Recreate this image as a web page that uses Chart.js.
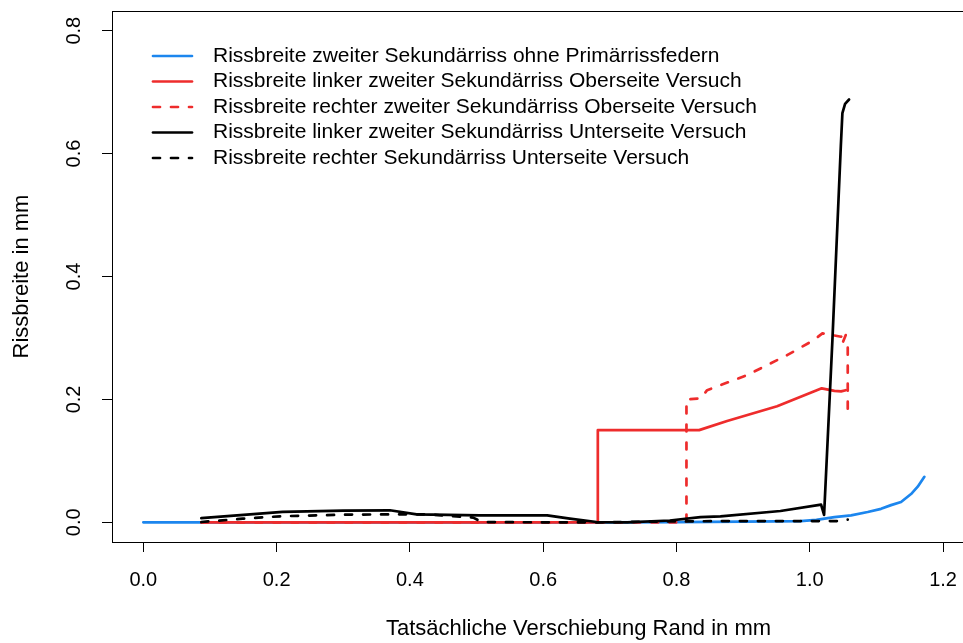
<!DOCTYPE html>
<html>
<head>
<meta charset="utf-8">
<script src="https://cdn.jsdelivr.net/npm/chart.js@4.4.1/dist/chart.umd.min.js"></script>
<style>
html, body { margin: 0; padding: 0; overflow: hidden; background: #fff; width: 963px; height: 643px; }
canvas { display: block; }
</style>
</head>
<body>
<canvas id="c" width="1050" height="643"></canvas>
<script>
// ---- data ----
const xTicks = [0, 0.2, 0.4, 0.6, 0.8, 1.0, 1.2];
const yTicks = [0, 0.2, 0.4, 0.6, 0.8];

const seriesLabels = [
  "Rissbreite zweiter Sekundärriss ohne Primärrissfedern",
  "Rissbreite linker zweiter Sekundärriss Oberseite Versuch",
  "Rissbreite rechter zweiter Sekundärriss Oberseite Versuch",
  "Rissbreite linker zweiter Sekundärriss Unterseite Versuch",
  "Rissbreite rechter Sekundärriss Unterseite Versuch"
];

const blueX = [0, 0.087, 0.3, 0.5, 0.7, 0.8, 0.9, 0.95, 0.986, 1.01, 1.037, 1.062, 1.087, 1.107, 1.122, 1.137, 1.152, 1.162, 1.172];
const blueY = [0, 0, 0, 0, 0, 0.0005, 0.001, 0.0015, 0.002, 0.004, 0.0086, 0.0114, 0.0168, 0.022, 0.028, 0.033, 0.046, 0.058, 0.074];

const redOX = [0.087, 0.682, 0.682, 0.75, 0.834, 0.876, 0.951, 1.018, 1.037, 1.047, 1.054];
const redOY = [0, 0, 0.15, 0.15, 0.15, 0.165, 0.189, 0.218, 0.214, 0.213, 0.215];

const redRX = [0.087, 0.815, 0.815, 0.836, 0.846, 0.906, 0.966, 1.006, 1.019, 1.027, 1.047, 1.056, 1.049, 1.057, 1.057];
const redRY = [0, 0, 0.2, 0.2015, 0.215, 0.2395, 0.272, 0.2965, 0.3075, 0.306, 0.302, 0.31, 0.291, 0.29, 0.172];

const blkLX = [0.087, 0.209, 0.30, 0.37, 0.41, 0.505, 0.606, 0.64, 0.68, 0.726, 0.79, 0.836, 0.866, 0.956, 1.017, 1.0215, 1.034, 1.0466, 1.049, 1.053, 1.059];
const blkLY = [0.007, 0.017, 0.019, 0.0196, 0.013, 0.0114, 0.0114, 0.006, 0.0005, 0, 0.003, 0.0086, 0.0098, 0.0184, 0.0288, 0.012, 0.2965, 0.6115, 0.666, 0.681, 0.688];

const blkRX = [0.087, 0.149, 0.209, 0.305, 0.38, 0.425, 0.45, 0.495, 0.508, 0.6, 0.68, 0.75, 0.866, 0.95, 1.02, 1.047, 1.057];
const blkRY = [0.0005, 0.006, 0.010, 0.0125, 0.013, 0.013, 0.011, 0.0077, 0.0005, 0, 0, 0.001, 0.002, 0.002, 0.002, 0.002, 0.0044];

function pts(xs, ys) { return xs.map((x, i) => ({ x: x, y: ys[i] })); }

const BLUE = "#1C86EE", RED = "#EE2C2C", BLACK = "#000000";
const FONT = "'Liberation Sans', Arial, Helvetica, sans-serif";

function ds(label, data, color, dash, order) {
  return {
    label: label, data: data, borderColor: color, backgroundColor: color,
    borderWidth: 2.7, borderDash: dash, borderCapStyle: "round", borderJoinStyle: "round",
    pointRadius: 0, showLine: true, tension: 0, fill: false, order: order
  };
}

// later series are painted on top (as in the reference)
const datasets = [
  ds(seriesLabels[0], pts(blueX, blueY), BLUE, [], 5),
  ds(seriesLabels[1], pts(redOX, redOY), RED, [], 4),
  ds(seriesLabels[2], pts(redRX, redRY), RED, [7, 11], 3),
  ds(seriesLabels[3], pts(blkLX, blkLY), BLACK, [], 2),
  ds(seriesLabels[4], pts(blkRX, blkRY), BLACK, [7, 11], 1)
];

const boxPlugin = {
  id: "box",
  afterDatasetsDraw(chart) {
    const a = chart.chartArea, ctx = chart.ctx;
    ctx.save();
    ctx.strokeStyle = "#000";
    ctx.lineWidth = 1;
    ctx.strokeRect(Math.round(a.left) + 0.5, Math.round(a.top) + 0.5, Math.round(a.right - a.left), Math.round(a.bottom - a.top));
    ctx.restore();
  }
};

const legendPlugin = {
  id: "rlegend",
  afterDraw(chart) {
    const ctx = chart.ctx;
    ctx.save();
    ctx.font = "21px " + FONT;
    ctx.textBaseline = "middle";
    ctx.textAlign = "left";
    chart.data.datasets.forEach((d, i) => {
      const y = 56 + i * 25.5;
      ctx.beginPath();
      ctx.strokeStyle = d.borderColor;
      ctx.lineWidth = d.borderWidth;
      ctx.lineCap = "round";
      ctx.setLineDash(d.borderDash || []);
      ctx.moveTo(153, y);
      ctx.lineTo(192, y);
      ctx.stroke();
      ctx.setLineDash([]);
      ctx.fillStyle = "#000";
      ctx.fillText(d.label, 213, y);
    });
    ctx.restore();
  }
};

new Chart(document.getElementById("c"), {
  type: "scatter",
  data: { datasets: datasets },
  plugins: [boxPlugin, legendPlugin],
  options: {
    responsive: false,
    animation: false,
    devicePixelRatio: 1,
    layout: { padding: { top: 11, right: 5, left: 0, bottom: 0 } },
    plugins: { legend: { display: false }, tooltip: { enabled: false } },
    scales: {
      x: {
        type: "linear", min: -0.047, max: 1.353,
        afterBuildTicks: (s) => { s.ticks = xTicks.map(v => ({ value: v })); },
        afterFit: (s) => { s.height = 101; s.paddingLeft = 0; s.paddingRight = 0; },
        grid: { display: true, drawOnChartArea: false, drawTicks: true, tickLength: 10, color: "#000", lineWidth: 1 },
        border: { display: true, color: "#000", width: 1 },
        ticks: {
          color: "#000", padding: 16.5, maxRotation: 0, autoSkip: false,
          font: { family: FONT, size: 20, lineHeight: 1.2 },
          callback: (v) => Number(v).toFixed(1)
        },
        title: {
          display: true, text: "Tatsächliche Verschiebung Rand in mm", color: "#000",
          font: { family: FONT, size: 22, lineHeight: 1 }, padding: { top: 0, bottom: 3 }
        }
      },
      y: {
        type: "linear", min: -0.032, max: 0.832,
        afterBuildTicks: (s) => { s.ticks = yTicks.map(v => ({ value: v })); },
        afterFit: (s) => { s.width = 112; s.paddingTop = 0; s.paddingBottom = 0; },
        grid: { display: true, drawOnChartArea: false, drawTicks: true, tickLength: 10, color: "#000", lineWidth: 1 },
        border: { display: true, color: "#000", width: 1 },
        ticks: {
          color: "#000", padding: 14, minRotation: 90, maxRotation: 90, crossAlign: "center", autoSkip: false,
          font: { family: FONT, size: 20, lineHeight: 1.2 },
          callback: (v) => Number(v).toFixed(1)
        },
        title: {
          display: true, text: "Rissbreite in mm", color: "#000",
          font: { family: FONT, size: 22, lineHeight: 1 }, padding: { top: 11, bottom: 0 }
        }
      }
    }
  }
});
</script>
</body>
</html>
